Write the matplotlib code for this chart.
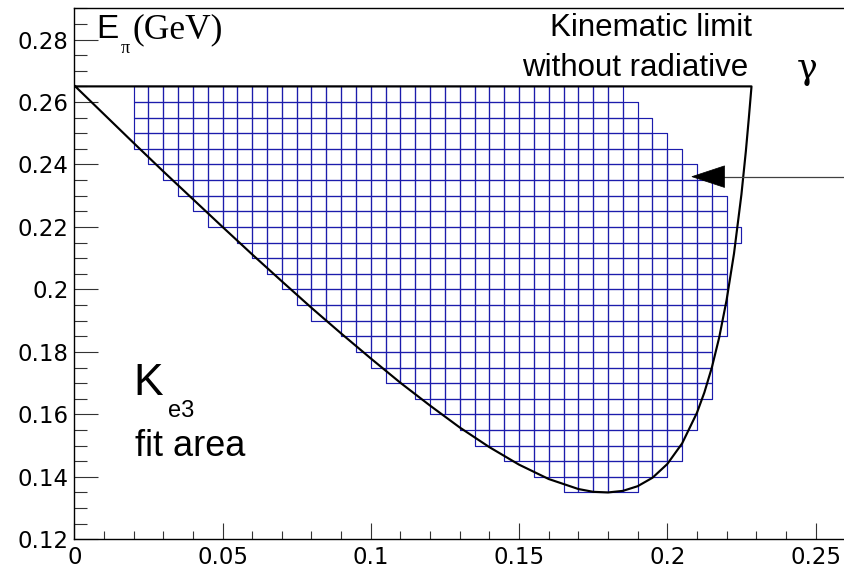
import matplotlib
matplotlib.use("Agg")
import matplotlib.pyplot as plt
from matplotlib.patches import Rectangle, Polygon
from matplotlib.collections import PatchCollection
from matplotlib.ticker import MultipleLocator, FixedLocator

# ---------------- data ----------------
# fit-area bins (bin size 0.005 x 0.005), one entry per row
bin_size = 0.005
row_low = [0.135, 0.140, 0.145, 0.150, 0.155, 0.160, 0.165, 0.170, 0.175,
           0.180, 0.185, 0.190, 0.195, 0.200, 0.205, 0.210, 0.215, 0.220,
           0.225, 0.230, 0.235, 0.240, 0.245, 0.250, 0.255, 0.260]
row_xmin = [0.165, 0.155, 0.145, 0.135, 0.130, 0.120, 0.115, 0.105, 0.100,
            0.095, 0.090, 0.080, 0.075, 0.070, 0.065, 0.060, 0.055, 0.045,
            0.040, 0.035, 0.030, 0.025, 0.020, 0.020, 0.020, 0.020]
row_xmax = [0.190, 0.200, 0.205, 0.205, 0.210, 0.210, 0.215, 0.215, 0.215,
            0.215, 0.220, 0.220, 0.220, 0.220, 0.220, 0.220, 0.225, 0.220,
            0.220, 0.215, 0.210, 0.205, 0.200, 0.195, 0.190, 0.185]

# kinematic limit (closed contour)
curve_x = [0.000, 0.010, 0.020, 0.030, 0.040, 0.050, 0.060, 0.070, 0.080,
           0.090, 0.100, 0.110, 0.120, 0.130, 0.140, 0.150, 0.160, 0.170,
           0.175, 0.180, 0.185, 0.190, 0.195, 0.200, 0.205, 0.210, 0.2125,
           0.215, 0.2175, 0.220, 0.2225, 0.225, 0.2265, 0.2275, 0.2284, 0.000]
curve_y = [0.2653, 0.2561, 0.2469, 0.2378, 0.2289, 0.2200, 0.2112, 0.2026,
           0.1941, 0.1859, 0.1779, 0.1701, 0.1628, 0.1558, 0.1495, 0.1439,
           0.1393, 0.1361, 0.1352, 0.1350, 0.1355, 0.1370, 0.1397, 0.1441,
           0.1507, 0.1605, 0.1670, 0.1749, 0.1846, 0.1966, 0.2115, 0.2304,
           0.2443, 0.2549, 0.2650, 0.2650]

arrow_y = 0.2361
arrow_tip_x = 0.2083

x_ticks = [0, 0.05, 0.1, 0.15, 0.2, 0.25]
x_tick_labels = ["0", "0.05", "0.1", "0.15", "0.2", "0.25"]
y_ticks = [0.12, 0.14, 0.16, 0.18, 0.20, 0.22, 0.24, 0.26, 0.28]
y_tick_labels = ["0.12", "0.14", "0.16", "0.18", "0.2", "0.22", "0.24", "0.26", "0.28"]

# ---------------- figure ----------------
W, H = 844, 568
fig = plt.figure(figsize=(W / 100, H / 100), dpi=100)
ax = fig.add_axes([74.3 / W, (H - 539.3) / H, 0.26 * 2965 / W, 531.0 / H])
ax.set_xlim(0, 0.26)
ax.set_ylim(0.12, 0.29)

# boxes
boxes = []
for y0, xa, xb in zip(row_low, row_xmin, row_xmax):
    i0 = int(round(xa / bin_size))
    i1 = int(round(xb / bin_size))
    for i in range(i0, i1):
        boxes.append(Rectangle((i * bin_size, y0), bin_size, bin_size))
pc = PatchCollection(boxes, facecolor="none", edgecolor="#1c1cac", linewidth=0.85, zorder=2)
ax.add_collection(pc)

# kinematic limit
ax.plot(curve_x, curve_y, color="black", linewidth=1.55, zorder=3, solid_joinstyle="round")

# arrow
ax.plot([arrow_tip_x + 0.0105, 0.262], [arrow_y, arrow_y], color="#404040",
        linewidth=0.9, zorder=4, clip_on=False)
head = Polygon([[arrow_tip_x, arrow_y],
                [arrow_tip_x + 0.0110, arrow_y + 0.00345],
                [arrow_tip_x + 0.0110, arrow_y - 0.00345]],
               closed=True, facecolor="black", edgecolor="black", linewidth=0.5, zorder=5)
ax.add_patch(head)

# axes style
ax.spines["right"].set_visible(False)
for s in ["left", "bottom", "top"]:
    ax.spines[s].set_linewidth(1.0)
    ax.spines[s].set_color("black")

ax.xaxis.set_major_locator(FixedLocator(x_ticks))
ax.set_xticklabels(x_tick_labels)
ax.xaxis.set_minor_locator(MultipleLocator(0.01))
ax.yaxis.set_major_locator(FixedLocator(y_ticks))
ax.set_yticklabels(y_tick_labels)
ax.yaxis.set_minor_locator(MultipleLocator(0.005))

ax.tick_params(axis="x", which="major", direction="in", length=11.5, width=0.8,
               color="#333333", pad=4.5, labelsize=16.5, top=False)
ax.tick_params(axis="x", which="minor", direction="in", length=6.0, width=0.8,
               color="#333333", top=False)
ax.tick_params(axis="y", which="major", direction="in", length=17.5, width=0.8,
               color="#333333", pad=4.0, labelsize=16.5, right=False)
ax.tick_params(axis="y", which="minor", direction="in", length=9.0, width=0.8,
               color="#333333", right=False)
for lab in ax.get_xticklabels() + ax.get_yticklabels():
    lab.set_family(["DejaVu Sans"])

# texts (positions in pixels)
def ftext(px, py, s, size, family, **kw):
    fig.text(px / W, 1 - py / H, s, fontsize=size, family=family,
             va="baseline", ha="left", **kw)

sans = ["Liberation Sans", "DejaVu Sans"]
serif = ["Liberation Serif", "DejaVu Serif"]
ftext(96, 38.3, "E", 24, sans)
ftext(121, 53, "π", 13, serif)
ftext(133, 38.3, "(GeV)", 25.5, serif)
ftext(550, 36.5, "Kinematic limit", 22.5, sans)
ftext(522, 76, "without radiative", 22.5, sans)
ftext(797, 79, "γ", 25, ["DejaVu Serif"])
ftext(133, 395, "K", 32, sans)
ftext(168, 417, "e3", 17, sans)
ftext(135, 456, "fit area", 26, sans)

fig.savefig("out.png", dpi=100)
